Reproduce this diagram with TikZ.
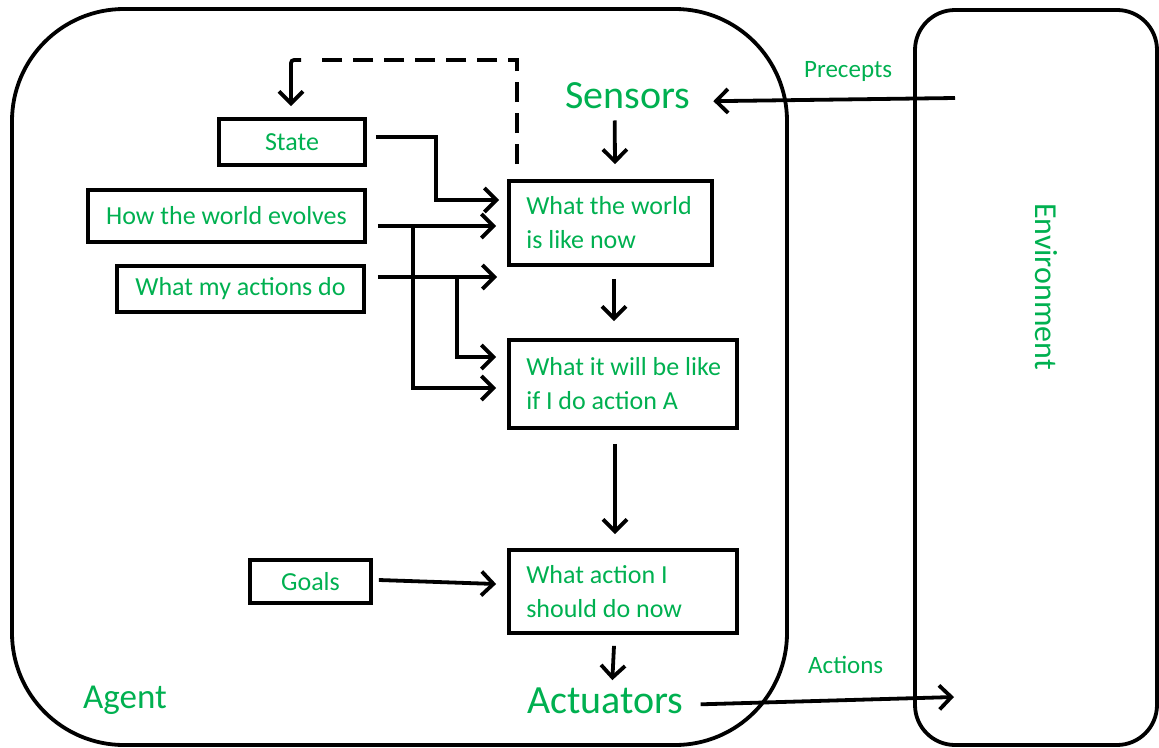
\documentclass[tikz,border=0pt]{standalone}
\usepackage{fontspec}
\setmainfont{Carlito}
\usetikzlibrary{arrows.meta}
\definecolor{lbl}{RGB}{0,176,80}
\begin{document}
\begin{tikzpicture}[x=1pt,y=-1pt,
  box/.style={draw, line width=3.8pt, inner sep=0pt, font=\fontsize{26}{34}\selectfont, text=lbl},
  txt/.style={inner sep=0pt, align=left, anchor=west, font=\fontsize{26}{34}\selectfont, text=lbl},
  arr/.style={line width=3.8pt, -{Straight Barb[length=12pt,width=24pt,line width=3.8pt]}},
  lab/.style={text=lbl, inner sep=0pt, anchor=base west},
  frame/.style={draw, line width=3.8pt}
]
\useasboundingbox (0,0) rectangle (1159,747);
% outer frames
\node[frame, rounded corners=112pt, minimum width=775pt, minimum height=736pt] (agentbox) at (399.5,377) {};
\node[frame, rounded corners=40pt, minimum width=242pt, minimum height=735pt] (envbox) at (1036,377.5) {};
% left boxes
\node[box, minimum width=146pt, minimum height=46pt] (state) at (292,142) {State};
\node[box, minimum width=277pt, minimum height=52pt] (evolves) at (226.5,216) {How the world evolves};
\node[box, minimum width=247pt, minimum height=46pt] (myact) at (240.5,289) {What my actions do};
\node[box, minimum width=121pt, minimum height=43pt] (goals) at (310.5,581.5) {Goals};
% right boxes
\node[box, minimum width=203pt, minimum height=84pt] (now) at (610.5,223) {};
\node[box, minimum width=228pt, minimum height=88pt] (future) at (623,384) {};
\node[box, minimum width=228pt, minimum height=83pt] (action) at (623,591.5) {};
\node[txt] (nowtxt) at ([xshift=19pt]now.west) {What the world\\is like now};
\node[txt] (futuretxt) at ([xshift=19pt]future.west) {What it will be like\\if I do action A};
\node[txt] (actiontxt) at ([xshift=19pt]action.west) {What action I\\should do now};
% labels
\node[lab, font=\fontsize{40}{40}\selectfont] (sensors) at (565,108) {Sensors};
\node[lab, font=\fontsize{40}{40}\selectfont] (actuators) at (527,713) {Actuators};
\node[lab, font=\fontsize{35}{35}\selectfont] (agent) at (83,708) {Agent};
\node[lab, font=\fontsize{25}{25}\selectfont] (precepts) at (804,77) {Precepts};
\node[lab, font=\fontsize{25}{25}\selectfont] (actions) at (808,673) {Actions};
\node[lab, font=\fontsize{32}{32}\selectfont, rotate=-90] (environment) at (1035,203) {Environment};
% free ends
\coordinate (penv) at (955,98);
\coordinate (aenv) at (954,697);
\coordinate (gap) at (497,277);
\coordinate (fbtop) at (517,60);
\coordinate (fbleft) at (291,60);
\coordinate (b1) at (413,226);
\coordinate (b2) at (457,277);
% connectors
\draw[arr] ([xshift=9pt,yshift=5pt]state.east) -- ++(60,0) |- ([xshift=-8pt,yshift=23pt]now.west);
\draw[arr] ([xshift=11pt,yshift=-10pt]evolves.east) -- ([xshift=-11pt,yshift=-3pt]now.west);
\draw[arr] (b1) |- ([xshift=-11pt,yshift=-4pt]future.west);
\draw[arr] ([xshift=12pt,yshift=12pt]myact.east) -- (gap);
\draw[arr] (b2) |- ([xshift=-11pt,yshift=27pt]future.west);
\draw[arr] ([xshift=-13pt,yshift=-12pt]sensors.south) -- ([xshift=4.5pt,yshift=15pt]now.north);
\draw[arr] ([xshift=3.5pt,yshift=-12pt]now.south) -- ([xshift=-9pt,yshift=17pt]future.north);
\draw[arr] ([xshift=-8pt,yshift=-14pt]future.south) -- ([xshift=-8pt,yshift=14pt]action.north);
\draw[arr] ([xshift=-9pt,yshift=-11pt]action.south) -- ([xshift=7pt,yshift=7pt]actuators.north);
\draw[arr] ([xshift=6pt,yshift=1.5pt]goals.east) -- ([xshift=-11pt,yshift=7.5pt]action.west);
\draw[arr] (penv) -- ([xshift=23pt,yshift=-6pt]sensors.east);
\draw[arr] ([xshift=17pt,yshift=-4pt]actuators.east) -- (aenv);
% feedback
\draw[line width=3.8pt, dash pattern=on 20pt off 11pt] ([xshift=-93.5pt,yshift=15pt]now.north) -- (fbtop) -- ([xshift=22pt]fbleft);
\draw[arr, rounded corners=3pt] ([xshift=10pt]fbleft) -- (fbleft) -- ([xshift=-1pt,yshift=11pt]state.north);
\end{tikzpicture}
\end{document}
